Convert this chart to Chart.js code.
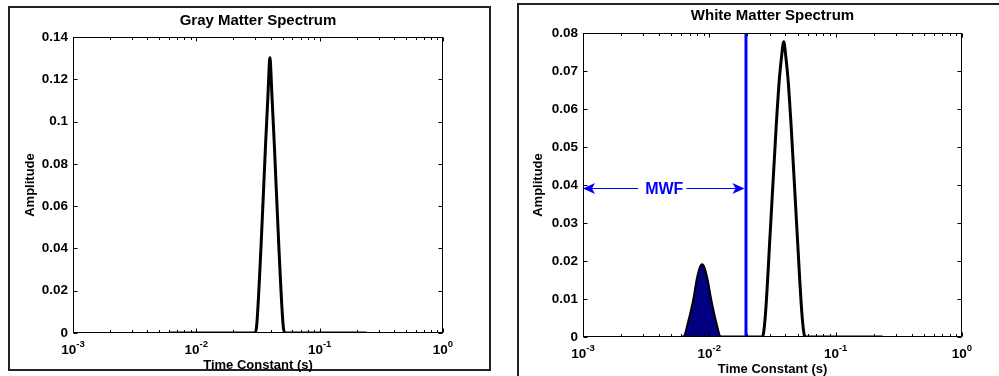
<!DOCTYPE html>
<html>
<head>
<meta charset="utf-8">
<script src="https://cdn.jsdelivr.net/npm/chart.js@4/dist/chart.umd.min.js"></script>
<style>
  html, body { margin: 0; padding: 0; background: #fff; width: 999px; height: 376px; overflow: hidden; position: relative; }
  .frame { position: absolute; box-sizing: border-box; border: 2px solid #222; }
  #f1 { left: 8px; top: 6px; width: 483px; height: 365px; }
  #f2 { left: 517px; top: 3px; width: 500px; height: 400px; }
  .cv { position: absolute; top: 0; }
  #c1 { left: 0; }
  #c2 { left: 500px; }
</style>
</head>
<body>
<div class="frame" id="f1"></div>
<div class="frame" id="f2"></div>
<canvas id="c1" class="cv" width="500" height="376" style="width:500px;height:376px"></canvas>
<canvas id="c2" class="cv" width="499" height="376" style="width:499px;height:376px"></canvas>
<script>
// ---------- data ----------
const xTickValues = [0.001, 0.01, 0.1, 1];
const xTickBase = '10';
const xTickExponents = ['-3', '-2', '-1', '0'];

const grayYTickLabels  = ['0', '0.02', '0.04', '0.06', '0.08', '0.1', '0.12', '0.14'];
const whiteYTickLabels = ['0', '0.01', '0.02', '0.03', '0.04', '0.05', '0.06', '0.07', '0.08'];

// Gray matter spectrum (time constant in s, amplitude)
const grayT   = [0.006, 0.0299, 0.0309, 0.0335, 0.0364, 0.0381, 0.0392, 0.0395, 0.0398, 0.0410, 0.0429, 0.0466, 0.0505, 0.0522, 0.24];
const grayAmp = [0,     0,      0.0040, 0.0416, 0.0889, 0.1126, 0.1288, 0.1302, 0.1288, 0.1126, 0.0889, 0.0416, 0.0040, 0,      0];

// White matter spectrum
const whiteT   = [0.006, 0.0063, 0.0068, 0.0075, 0.0081, 0.00877, 0.0095, 0.0103, 0.0113, 0.0122,
                  0.0263, 0.0277, 0.0304, 0.0337, 0.0358, 0.0373, 0.0388, 0.0403, 0.0420, 0.0446, 0.0494, 0.0543, 0.0572, 0.236];
const whiteAmp = [0,     0,      0.0035, 0.0095, 0.0158, 0.0190,  0.0158, 0.0095, 0.0035, 0,
                  0,      0.0053, 0.0281, 0.0545, 0.0677, 0.0738, 0.0777, 0.0738, 0.0677, 0.0545, 0.0281, 0.0053, 0,     0];

// Myelin water peak (shaded part)
const myelinT   = [0.0063, 0.0068, 0.0075, 0.0081, 0.00877, 0.0095, 0.0103, 0.0113, 0.0122];
const myelinAmp = [0,      0.0035, 0.0095, 0.0158, 0.0190,  0.0158, 0.0095, 0.0035, 0];

// MWF cut-off and annotation
const mwfCutoffT   = [0.0195, 0.0195];
const mwfCutoffAmp = [0, 0.08];
const mwfArrow = { amp: 0.0392, fromT: 0.001, toT: 0.0195, labelT: 0.00440, text: 'MWF' };

// ---------- helpers ----------
const FONT = '"Liberation Sans", Arial, Helvetica, sans-serif';
Chart.defaults.font.family = FONT;
const tickFont  = { family: FONT, size: 13.5, weight: 'bold' };
const axisFont  = { family: FONT, size: 13, weight: 'bold' };
const titleFont = { family: FONT, size: 15, weight: 'bold' };
const pts = (xs, ys) => xs.map((x, i) => ({ x: x, y: ys[i] }));

const matlabAxes = {
  id: 'matlabAxes',
  afterDatasetsDraw(chart) {
    const { ctx, chartArea: a, scales: { x, y } } = chart;
    const L = Math.round(a.left) + 0.5, R = Math.round(a.right) - 0.5;
    const T = Math.round(a.top) + 0.5, B = Math.round(a.bottom) - 0.5;
    ctx.save();
    ctx.strokeStyle = '#000';
    ctx.lineWidth = 1;
    ctx.beginPath();
    y.ticks.forEach(t => {
      const py = Math.round(y.getPixelForValue(t.value)) + 0.5;
      ctx.moveTo(L, py); ctx.lineTo(L + 4, py);
      ctx.moveTo(R, py); ctx.lineTo(R - 4, py);
    });
    for (let e = -3; e <= 0; e++) {
      for (let k = 1; k <= 9; k++) {
        const v = k * Math.pow(10, e);
        if (v > 1.0000001) break;
        const px = Math.round(x.getPixelForValue(v)) + 0.5;
        const len = k === 1 ? 4 : 2.5;
        ctx.moveTo(px, B); ctx.lineTo(px, B - len);
        ctx.moveTo(px, T); ctx.lineTo(px, T + len);
      }
    }
    ctx.stroke();
    ctx.strokeRect(L, T, R - L, B - T);
    ctx.restore();
  },
  afterDraw(chart) {
    // decade labels with a real superscript exponent
    const { ctx, chartArea: a, scales: { x } } = chart;
    const baseY = a.bottom + 20.5;
    ctx.save();
    ctx.fillStyle = '#000';
    ctx.textBaseline = 'alphabetic';
    ctx.textAlign = 'left';
    xTickValues.forEach((v, i) => {
      const px = x.getPixelForValue(v);
      ctx.font = 'bold 13.5px ' + FONT;
      const wb = ctx.measureText(xTickBase).width;
      ctx.font = 'bold 9.5px ' + FONT;
      const we = ctx.measureText(xTickExponents[i]).width;
      const x0 = px - (wb + we) / 2;
      ctx.font = 'bold 13.5px ' + FONT;
      ctx.fillText(xTickBase, x0, baseY);
      ctx.font = 'bold 9.5px ' + FONT;
      ctx.fillText(xTickExponents[i], x0 + wb, baseY - 7);
    });
    ctx.restore();
  }
};

const mwfPlugin = {
  id: 'mwfArrow',
  afterDatasetsDraw(chart) {
    const { ctx, scales: { x, y } } = chart;
    const blue = '#0000ff';
    const x0 = x.getPixelForValue(mwfArrow.fromT);
    const x1 = x.getPixelForValue(mwfArrow.toT) - 1.5;
    const py = Math.round(y.getPixelForValue(mwfArrow.amp)) + 0.5;
    const cx = x.getPixelForValue(mwfArrow.labelT);
    ctx.save();
    ctx.font = 'bold 16px ' + FONT;
    const tw = ctx.measureText(mwfArrow.text).width;
    ctx.strokeStyle = blue; ctx.fillStyle = blue; ctx.lineWidth = 1.2;
    ctx.beginPath();
    ctx.moveTo(x0 + 3, py); ctx.lineTo(cx - tw / 2 - 7, py);
    ctx.moveTo(cx + tw / 2 + 3, py); ctx.lineTo(x1 - 3, py);
    ctx.stroke();
    ctx.beginPath();
    ctx.moveTo(x0, py); ctx.lineTo(x0 + 12, py - 5.5); ctx.lineTo(x0 + 9, py); ctx.lineTo(x0 + 12, py + 5.5); ctx.closePath();
    ctx.fill();
    ctx.beginPath();
    ctx.moveTo(x1, py); ctx.lineTo(x1 - 12, py - 5.5); ctx.lineTo(x1 - 9, py); ctx.lineTo(x1 - 12, py + 5.5); ctx.closePath();
    ctx.fill();
    ctx.textAlign = 'center'; ctx.textBaseline = 'middle';
    ctx.fillText(mwfArrow.text, cx, py + 1);
    ctx.restore();
  }
};

function xScaleCfg(axisHeight, titlePadBottom) {
  return {
    type: 'logarithmic', min: 0.001, max: 1,
    grid: { display: false, drawTicks: false }, border: { display: false },
    afterBuildTicks: s => { s.ticks = xTickValues.map(v => ({ value: v })); },
    ticks: { display: false, autoSkip: false, maxRotation: 0, minRotation: 0,
             callback: (v, i) => xTickBase + '^' + xTickExponents[i] },
    title: { display: true, text: 'Time Constant (s)', color: '#000', font: axisFont,
             padding: { top: 0, bottom: titlePadBottom } },
    afterFit: s => { s.height = axisHeight; }
  };
}
function yScaleCfg(labels, axisWidth, titlePadTop) {
  const vals = labels.map(Number);
  return {
    type: 'linear', min: 0, max: vals[vals.length - 1],
    grid: { display: false, drawTicks: false }, border: { display: false },
    afterBuildTicks: s => { s.ticks = vals.map(v => ({ value: v })); },
    ticks: { autoSkip: false, padding: 5, color: '#000', font: tickFont, callback: (v, i) => labels[i] },
    title: { display: true, text: 'Amplitude', color: '#000', font: axisFont,
             padding: { top: titlePadTop, bottom: 0 } },
    afterFit: s => { s.width = axisWidth; }
  };
}
const lineDs = (data, extra) => Object.assign({
  data: data, borderColor: '#000', borderWidth: 3, pointRadius: 0, pointHoverRadius: 0,
  cubicInterpolationMode: 'monotone', fill: false
}, extra || {});

// ---------- Gray matter ----------
new Chart(document.getElementById('c1'), {
  type: 'line',
  data: { datasets: [ lineDs(pts(grayT, grayAmp)) ] },
  options: {
    responsive: false, animation: false, events: [],
    layout: { padding: { left: 0, right: 57, top: 0, bottom: 0 } },
    plugins: {
      legend: { display: false }, tooltip: { enabled: false },
      title: { display: true, fullSize: false, text: 'Gray Matter Spectrum', color: '#000', font: titleFont,
               padding: { top: 12, bottom: 7 } }
    },
    scales: { x: xScaleCfg(43, 2.7), y: yScaleCfg(grayYTickLabels, 73, 22.2) }
  },
  plugins: [matlabAxes]
});

// ---------- White matter ----------
new Chart(document.getElementById('c2'), {
  type: 'line',
  data: { datasets: [
    lineDs(pts(mwfCutoffT, mwfCutoffAmp), { borderColor: '#0000ff', borderWidth: 3, cubicInterpolationMode: 'default', tension: 0, order: -1 }),
    lineDs(pts(myelinT, myelinAmp), { borderWidth: 1, fill: 'origin', backgroundColor: '#000080', order: 0 }),
    lineDs(pts(whiteT, whiteAmp), { order: 1 })
  ] },
  options: {
    responsive: false, animation: false, events: [],
    layout: { padding: { left: 0, right: 37, top: 0, bottom: 0 } },
    plugins: {
      legend: { display: false }, tooltip: { enabled: false },
      title: { display: true, fullSize: false, text: 'White Matter Spectrum', color: '#000', font: titleFont,
               padding: { top: 7, bottom: 8 } }
    },
    scales: { x: xScaleCfg(39, -1.3), y: yScaleCfg(whiteYTickLabels, 83, 30.2) }
  },
  plugins: [matlabAxes, mwfPlugin]
});
</script>
</body>
</html>
